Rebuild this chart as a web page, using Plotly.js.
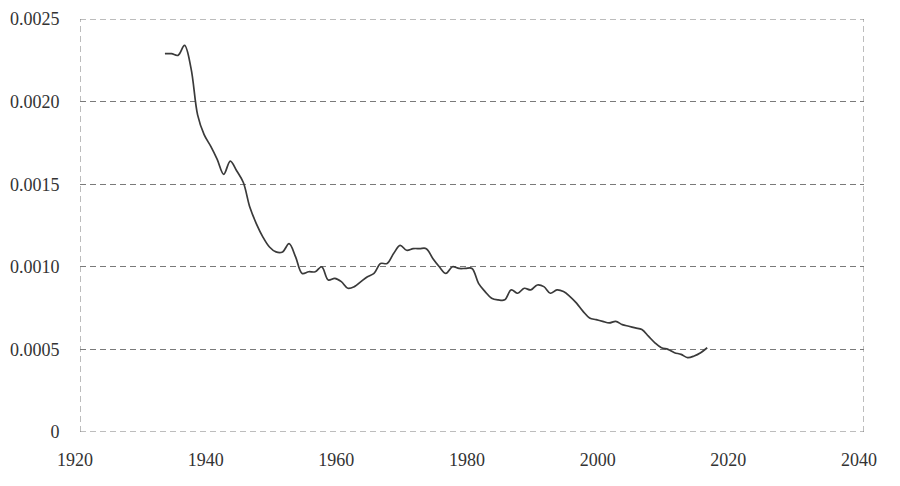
<!DOCTYPE html>
<html>
<head>
<meta charset="utf-8">
<script src="https://cdn.plot.ly/plotly-3.0.1.min.js"></script>
<style>html,body{margin:0;padding:0;background:#fff;}#chart{width:900px;height:486px;}</style>
</head>
<body>
<div id="chart"></div>
<script>
var years = [1933,1934,1935,1936,1937,1938,1939,1940,1941,1942,1943,1944,1945,1946,1947,1948,1949,1950,
1951,1952,1953,1954,1955,1956,1957,1958,1959,1960,1961,1962,1963,1964,1965,1966,1967,1968,1969,1970,
1971,1972,1973,1974,1975,1976,1977,1978,1979,1980,1981,1982,1983,1984,1985,1986,1987,1988,1989,1990,
1991,1992,1993,1994,1995,1996,1997,1998,1999,2000,2001,2002,2003,2004,2005,2006,2007,2008,2009,2010,
2011,2012,2013,2014,2015,2016];
var values = [0.00229,0.00229,0.00228,0.00234,0.00220,0.00192,0.00180,0.00173,0.00165,0.00156,0.00164,0.00158,0.00151,0.00136,0.00126,0.00118,0.00112,0.00109,
0.00109,0.00114,0.00106,0.00096,0.00097,0.00097,0.00100,0.00092,0.00093,0.00091,0.00087,0.00088,0.00091,0.00094,0.00096,0.00102,0.00102,0.00108,0.00113,0.00110,
0.00111,0.00111,0.00111,0.00105,0.00100,0.00096,0.00100,0.00099,0.00099,0.00099,0.00090,0.00085,0.00081,0.00080,0.00080,0.00086,0.00084,0.00087,0.00086,0.00089,
0.00088,0.00084,0.00086,0.00085,0.00082,0.00078,0.00073,0.00069,0.00068,0.00067,0.00066,0.00067,0.00065,0.00064,0.00063,0.00062,0.00058,0.00054,0.00051,0.00050,
0.00048,0.00047,0.00045,0.00046,0.00048,0.00051];
var xTicks = [1920,1940,1960,1980,2000,2020,2040];
var yTicks = [0,0.0005,0.0010,0.0015,0.0020,0.0025];
var yTickText = ['0','0.0005','0.0010','0.0015','0.0020','0.0025'];

var font = {family:'Liberation Serif', size:18, color:'#333333'};
var gridDash = '6px,4px';
var gridColor = '#7a7a7a';

var trace = {
  x: years, y: values, type:'scatter', mode:'lines',
  line:{color:'#3a3a3a', width:1.7, shape:'spline', smoothing:1},
  hoverinfo:'skip'
};
function vline(xv){return {type:'line', xref:'x', yref:'paper', x0:xv, x1:xv, y0:0, y1:1, line:{color:gridColor, width:1, dash:gridDash}};}
function hline(yv){return {type:'line', xref:'paper', yref:'y', x0:0, x1:1, y0:yv, y1:yv, line:{color:gridColor, width:1, dash:gridDash}};}
var layout = {
  width:900, height:486,
  margin:{l:80, r:36, t:19, b:54},
  paper_bgcolor:'#fff', plot_bgcolor:'#fff',
  showlegend:false,
  font: font,
  xaxis:{range:[1920,2040], tickvals:xTicks, ticktext:xTicks.map(String),
    showgrid:false, zeroline:false, showline:false, ticklabelshift:-5,
    ticks:'outside', ticklen:11, tickcolor:'rgba(0,0,0,0)', tickfont:font, fixedrange:true},
  yaxis:{range:[0,0.0025], tickvals:yTicks, ticktext:yTickText,
    showgrid:true, gridcolor:gridColor, gridwidth:1, griddash:gridDash,
    zeroline:false, showline:false,
    ticks:'outside', ticklen:16, tickcolor:'rgba(0,0,0,0)', tickfont:font, fixedrange:true},
  shapes:[vline(1920), vline(2040), hline(0), hline(0.0025)]
};
Plotly.newPlot('chart', [trace], layout, {displayModeBar:false, staticPlot:true});
</script>
</body>
</html>
